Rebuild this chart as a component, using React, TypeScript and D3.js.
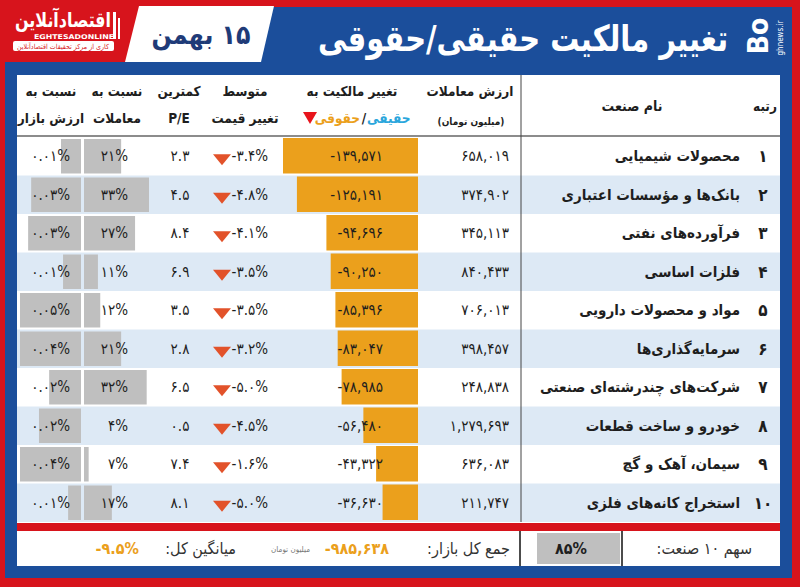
import { scaleBand, scaleLinear, format } from "d3";

const ranks = [1, 2, 3, 4, 5, 6, 7, 8, 9, 10];
const industries = [
  "محصولات شیمیایی",
  "بانک‌ها و مؤسسات اعتباری",
  "فرآورده‌های نفتی",
  "فلزات اساسی",
  "مواد و محصولات دارویی",
  "سرمایه‌گذاری‌ها",
  "شرکت‌های چندرشته‌ای صنعتی",
  "خودرو و ساخت قطعات",
  "سیمان، آهک و گچ",
  "استخراج کانه‌های فلزی",
];
const tradeValue = [658019, 374902, 345113, 840433, 706013, 398457, 248838, 1279693, 636083, 211747];
const ownershipChange = [-139571, -125191, -94696, -90250, -85396, -83047, -78985, -56480, -43322, -36630];
const avgPriceChange = [-3.4, -4.8, -4.1, -3.5, -3.5, -3.2, -5.0, -4.5, -1.6, -5.0];
const minPE = [2.3, 4.5, 8.4, 6.9, 3.5, 2.8, 6.5, 0.5, 7.4, 8.1];
const tradeShare = [21, 33, 27, 11, 12, 21, 32, 4, 7, 17];
// percent of market value
const marketShare = [0.0118, 0.0294, 0.0312, 0.0106, 0.048, 0.042, 0.0188, 0.0248, 0.044, 0.0076];

const totalMarket = -985638;
const avgAll = -9.5;
const top10Share = 85;

const RED = "#d7141c";
const BLUE = "#1b4e9b";
const ORANGE = "#eba01c";
const GRAY = "#bfbfbf";
const LIGHT = "#dde9f5";
const TEXT = "#1e1e1e";
const FONT = "'DejaVu Sans Condensed', 'DejaVu Sans', sans-serif";
const RLM = "\u200F";

// persian digits
const fa = (s: string) => s.replace(/[0-9]/g, (d) => "۰۱۲۳۴۵۶۷۸۹"[+d]);
const comma = format(",");
const signed = (v: number) => (v < 0 ? "-" : "") + fa(comma(Math.abs(v)));

export default function App() {
  const y = scaleBand<number>().domain(ranks).range([137, 522]);
  const bh = y.bandwidth();

  const ownX = scaleLinear().domain([0, 139571]).range([0, 135]);
  const tradeX = scaleLinear().domain([5, 33]).range([0, 65]).clamp(true);
  const mktX = scaleLinear().domain([0, 0.036]).range([0, 61]).clamp(true);

  const headers = [
    { x: 51, l1: "نسبت به", l2: "ارزش بازار" },
    { x: 117, l1: "نسبت به", l2: "معاملات" },
    { x: 179, l1: "کمترین", l2: "P/E" },
    { x: 245, l1: "متوسط", l2: "تغییر قیمت" },
  ];

  return (
    <svg width={800} height={587} style={{ position: "absolute", left: 0, top: 0, fontFamily: FONT }}>
      <rect width={800} height={587} fill={RED} />
      {/* blue frame */}
      <rect x={5} y={62} width={787} height={516} fill={BLUE} />
      <polygon points="262,7 792,7 792,63 248,63" fill={BLUE} />
      <polygon points="139,6 274,6 261,62 125,62" fill="#fff" />

      {/* left logo */}
      <text x={63} y={27} textAnchor="middle" fill="#fff" fontSize={20} fontWeight="bold" textLength={96} lengthAdjust="spacingAndGlyphs">اقتصادآنلاین</text>
      <rect x={113} y={12} width={3} height={27} fill="#fff" />
      <rect x={118} y={18} width={2} height={21} fill="#fff" />
      <text x={74} y={39} textAnchor="middle" fill="#fff" fontSize={6.5} fontWeight="bold" textLength={80} lengthAdjust="spacingAndGlyphs">EGHTESADONLINE</text>
      <rect x={13} y={41} width={101} height={10} rx={2} fill="#fff" />
      <text x={63} y={49} textAnchor="middle" fill={RED} fontSize={7} textLength={92} lengthAdjust="spacingAndGlyphs">کاری از مرکز تحقیقات اقتصادآنلاین</text>

      {/* date */}
      <text x={201} y={44} textAnchor="middle" fill="#1f3b78" fontSize={27} fontWeight="bold" textLength={99} lengthAdjust="spacingAndGlyphs">{RLM + fa("15") + " بهمن"}</text>

      {/* title */}
      <text x={728} y={51} textAnchor="end" fill="#fff" fontSize={36} fontWeight="bold" textLength={410} lengthAdjust="spacingAndGlyphs">تغییر مالکیت حقیقی/حقوقی</text>

      {/* right logo */}
      <g transform="translate(768,36) rotate(-90)" fill="#fff">
        <text x={0} y={0} textAnchor="middle" fontSize={28} fontWeight="bold">Bo</text>
        <text x={-2} y={15} textAnchor="middle" fontSize={8}>ghnews.ir</text>
      </g>

      {/* table body */}
      <rect x={17} y={75} width={763} height={491} fill="#fff" />
      {ranks.map((r, i) => (
        <rect key={r} x={17} y={y(r)} width={763} height={bh} fill={i % 2 ? LIGHT : "#fff"} />
      ))}

      {/* header */}
      {headers.map((h) => (
        <g key={h.l2} fontSize={13.5} fontWeight="bold" fill={TEXT} textAnchor="middle">
          <text x={h.x} y={96}>{h.l1}</text>
          <text x={h.x} y={123}>{h.l2}</text>
        </g>
      ))}
      <text x={352} y={96} textAnchor="middle" fontSize={13.5} fontWeight="bold" fill={TEXT}>تغییر مالکیت به</text>
      <text x={367} y={123} textAnchor="start" fontSize={13.5} fontWeight="bold" fill="#2aa6dc">حقیقی</text>
      <text x={364} y={123} textAnchor="middle" fontSize={13.5} fontWeight="bold" fill={TEXT}>/</text>
      <text x={360} y={123} textAnchor="end" fontSize={13.5} fontWeight="bold" fill={ORANGE}>حقوقی</text>
      <polygon points="303,112 317,112 310,124" fill="#e8141c" />
      <text x={470} y={96} textAnchor="middle" fontSize={13.5} fontWeight="bold" fill={TEXT}>ارزش معاملات</text>
      <text x={471} y={125} textAnchor="middle" fontSize={10} fontWeight="bold" fill={TEXT}>{RLM + "(میلیون تومان)" + RLM}</text>
      <text x={632} y={111} textAnchor="middle" fontSize={14} fontWeight="bold" fill={TEXT}>نام صنعت</text>
      <text x={765} y={111} textAnchor="middle" fontSize={13.5} fontWeight="bold" fill={TEXT}>رتبه</text>
      <line x1={17} x2={780} y1={136} y2={136} stroke="#666" strokeWidth={1.5} />
      <line x1={521} x2={521} y1={75} y2={522} stroke="#444" strokeWidth={1} />

      {/* rows */}
      {ranks.map((r, i) => {
        const y0 = y(r)!;
        const cy = y0 + bh / 2;
        const ow = ownX(Math.abs(ownershipChange[i]));
        const tw = tradeX(tradeShare[i]);
        const mw = mktX(marketShare[i]);
        return (
          <g key={r} fill={TEXT} fontSize={15}>
            <rect x={418 - ow} y={y0 + 1} width={ow} height={bh - 3} fill={ORANGE} />
            <rect x={84} y={y0 + 2} width={tw} height={bh - 4} fill={GRAY} />
            <rect x={81 - mw} y={y0 + 2} width={mw} height={bh - 4} fill={GRAY} />
            <text x={763} y={cy + 6} textAnchor="middle" fontWeight="bold" fontSize={17}>{fa(String(r))}</text>
            <text x={740} y={cy + 5} textAnchor="end" fontWeight="bold">{industries[i]}</text>
            <text x={509} y={cy + 5} textAnchor="end">{signed(tradeValue[i])}</text>
            <text x={383} y={cy + 5} textAnchor="end">{signed(ownershipChange[i])}</text>
            <polygon points={`${213},${cy - 2} ${231},${cy - 2} ${222},${cy + 9}`} fill="#e2522a" />
            <text x={268} y={cy + 5} textAnchor="end">{fa(avgPriceChange[i].toFixed(1)) + "%"}</text>
            <text x={180} y={cy + 5} textAnchor="middle">{fa(minPE[i].toFixed(1))}</text>
            <text x={128} y={cy + 5} textAnchor="end">{fa(String(tradeShare[i])) + "%"}</text>
            <text x={70} y={cy + 5} textAnchor="end">{fa(marketShare[i].toFixed(2)) + "%"}</text>
          </g>
        );
      })}

      {/* footer */}
      <rect x={17} y={523} width={763} height={8} fill={RED} />
      <rect x={537} y={533} width={83} height={31} fill={GRAY} />
      <line x1={520} x2={520} y1={531} y2={566} stroke="#111" strokeWidth={1.5} />
      <line x1={622} x2={622} y1={531} y2={566} stroke="#111" strokeWidth={1.5} />
      <text x={752} y={554} textAnchor="end" fontSize={16} fill="#333">{"سهم " + fa("10") + " صنعت:" + RLM}</text>
      <text x={571} y={554} textAnchor="middle" fontSize={16} fontWeight="bold" fill={TEXT}>{fa(String(top10Share)) + "%"}</text>
      <text x={510} y={554} textAnchor="end" fontSize={16} fill="#333">{"جمع کل بازار:" + RLM}</text>
      <text x={389} y={554} textAnchor="end" fontSize={16} fontWeight="bold" fill={ORANGE}>{signed(totalMarket)}</text>
      <text x={310} y={552} textAnchor="end" fontSize={8} fill="#777">میلیون تومان</text>
      <text x={236} y={554} textAnchor="end" fontSize={16} fill="#333">{"میانگین کل:" + RLM}</text>
      <text x={139} y={554} textAnchor="end" fontSize={16} fontWeight="bold" fill={ORANGE}>{fa(avgAll.toFixed(1)) + "%"}</text>
    </svg>
  );
}
